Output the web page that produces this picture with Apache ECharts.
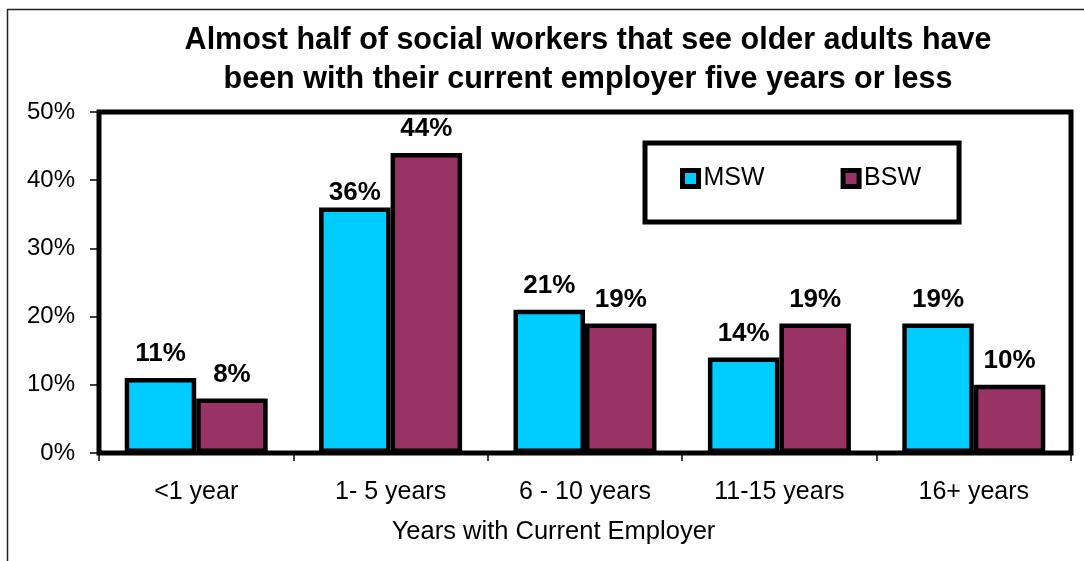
<!DOCTYPE html>
<html>
<head>
<meta charset="utf-8">
<script src="https://cdn.jsdelivr.net/npm/echarts@6/dist/echarts.min.js"></script>
<style>
  html, body { margin: 0; padding: 0; background: #fff; }
  #chart { width: 1084px; height: 561px; }
</style>
</head>
<body>
<div id="chart"></div>
<script>
// Years with current employer, share of social workers seeing older adults
const categories = ['<1 year', '1- 5 years', '6 - 10 years', '11-15 years', '16+ years'];
const mswValues = [11, 36, 21, 14, 19];
const bswValues = [8, 44, 19, 19, 10];
const yTicks = [0, 10, 20, 30, 40, 50];
const seriesNames = ['MSW', 'BSW'];

const FONT = '"Liberation Sans", Arial, Helvetica, sans-serif';

// The 36% label sits closer to its bar so it clears the taller BSW bar next to it
function buildData(values, tightIndex) {
  return values.map((v, i) => i === tightIndex
    ? { value: v, label: { distance: 2 } }
    : v);
}

const chart = echarts.init(document.getElementById('chart'), null, { renderer: 'canvas' });

const barLabel = {
  show: true,
  position: 'top',
  distance: 11,
  formatter: '{c}%',
  fontFamily: FONT,
  fontSize: 26,
  fontWeight: 'bold',
  color: '#000'
};

chart.setOption({
  backgroundColor: '#fff',
  animation: false,
  title: {
    text: 'Almost half of social workers that see older adults have\nbeen with their current employer five years or less',
    left: 583,
    top: 16,
    textAlign: 'center',
    textStyle: {
      fontFamily: FONT,
      fontSize: 30.5,
      fontWeight: 'bold',
      color: '#000',
      lineHeight: 39
    }
  },
  legend: {
    data: seriesNames,
    left: 645,
    top: 143,
    orient: 'horizontal',
    padding: [23, 38, 31, 35],
    itemGap: 76,
    itemWidth: 16,
    itemHeight: 16,
    icon: 'rect',
    borderColor: '#000',
    borderWidth: 5,
    backgroundColor: '#fff',
    itemStyle: { borderColor: '#000', borderWidth: 5 },
    textStyle: { fontFamily: FONT, fontSize: 25, color: '#000' }
  },
  grid: {
    left: 99,
    right: 13,
    top: 112,
    bottom: 108,
    show: true,
    borderColor: '#000',
    borderWidth: 5,
    backgroundColor: '#fff'
  },
  xAxis: {
    type: 'category',
    data: categories,
    name: 'Years with Current Employer',
    nameLocation: 'middle',
    nameGap: 66,
    nameTextStyle: {
      fontFamily: FONT,
      fontSize: 25.5,
      color: '#000',
      padding: [0, 63, 0, 0]
    },
    axisLine: { show: false },
    axisTick: { show: true, length: 8, lineStyle: { color: '#000', width: 1.5 } },
    axisLabel: { fontFamily: FONT, fontSize: 25, color: '#000', margin: 27 }
  },
  yAxis: {
    type: 'value',
    min: yTicks[0],
    max: yTicks[yTicks.length - 1],
    interval: yTicks[1] - yTicks[0],
    splitLine: { show: false },
    axisLine: { show: false },
    axisTick: { show: true, length: 9, lineStyle: { color: '#000', width: 1.5 } },
    axisLabel: { fontFamily: FONT, fontSize: 24, color: '#000', margin: 24, formatter: '{value}%' }
  },
  series: [
    {
      name: seriesNames[0],
      type: 'bar',
      data: buildData(mswValues, 1),
      barWidth: 71.5,
      barGap: '0%',
      itemStyle: { color: '#00CCFF', borderColor: '#000', borderWidth: 4.5 },
      label: barLabel
    },
    {
      name: seriesNames[1],
      type: 'bar',
      data: buildData(bswValues, -1),
      barWidth: 71.5,
      barGap: '0%',
      itemStyle: { color: '#993366', borderColor: '#000', borderWidth: 4.5 },
      label: barLabel
    }
  ],
  graphic: [
    {
      // thin outer frame of the chart area
      type: 'rect',
      silent: true,
      z: 100,
      shape: { x: 7.5, y: 9.5, width: 1200, height: 700 },
      style: { fill: 'none', stroke: '#222', lineWidth: 1.5 }
    }
  ]
});
</script>
</body>
</html>
